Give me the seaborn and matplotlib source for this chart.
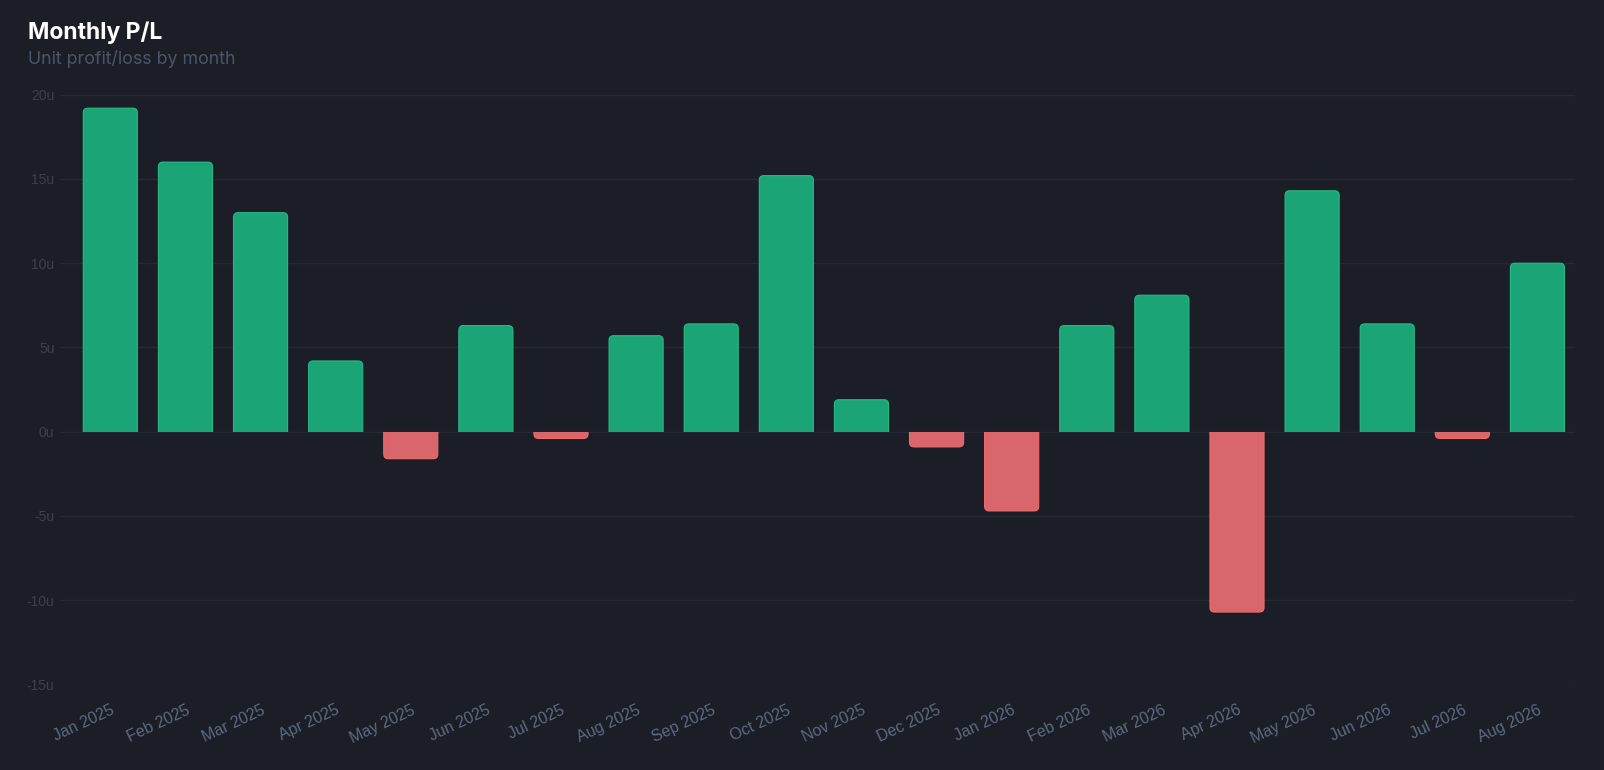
import numpy as np
import matplotlib
matplotlib.use("Agg")
import matplotlib.pyplot as plt
from matplotlib.patches import FancyBboxPatch, Rectangle
from matplotlib.ticker import MultipleLocator, FuncFormatter
import seaborn as sns

# Data
months = ["Jan 2025", "Feb 2025", "Mar 2025", "Apr 2025", "May 2025", "Jun 2025",
          "Jul 2025", "Aug 2025", "Sep 2025", "Oct 2025", "Nov 2025", "Dec 2025",
          "Jan 2026", "Feb 2026", "Mar 2026", "Apr 2026", "May 2026", "Jun 2026",
          "Jul 2026", "Aug 2026"]
pnl_units = [19.2, 16.0, 13.0, 4.2, -1.6, 6.3, -0.4, 5.7, 6.4, 15.2,
             1.9, -0.9, -4.7, 6.3, 8.1, -10.7, 14.3, 6.4, -0.4, 10.0]
y_limits = (-15, 20)

BG = "#1b1e27"
GRID = "#262935"
GREEN, GREEN_EDGE = "#1ba577", "#25b986"
RED, RED_EDGE = "#d9666a", "#ee6c6c"

sns.set_theme(style="dark")
plt.rcParams["font.family"] = ["Liberation Sans", "DejaVu Sans"]

W, H, DPI = 1604, 770, 100
fig = plt.figure(figsize=(W / DPI, H / DPI), dpi=DPI, facecolor=BG)
ax_left, ax_right, ax_top, ax_bottom = 60, 1575, 94.7, 684.5
ax = fig.add_axes([ax_left / W, 1 - ax_bottom / H,
                   (ax_right - ax_left) / W, (ax_bottom - ax_top) / H])
ax.set_facecolor(BG)

sign = ["gain" if v >= 0 else "loss" for v in pnl_units]
sns.barplot(x=months, y=pnl_units, hue=sign, palette={"gain": GREEN, "loss": RED},
            width=0.72, dodge=False, saturation=1, legend=False, ax=ax)

ax.set_xlim(-0.67, 19.5)
ax.set_ylim(*y_limits)

# rounded far-end corners: swap seaborn's rectangles for rounded boxes
px_x = (ax_right - ax_left) / (19.5 + 0.67)
px_y = (ax_bottom - ax_top) / (y_limits[1] - y_limits[0])
r_x = 4.5 / px_x
r_y = 4.5 / px_y
edge_for = {matplotlib.colors.to_hex(GREEN): GREEN_EDGE, matplotlib.colors.to_hex(RED): RED_EDGE}
for bar in list(ax.patches):
    x0, w = bar.get_x(), bar.get_width()
    y0, h = bar.get_y(), bar.get_height()
    lo, hi = min(y0, y0 + h), max(y0, y0 + h)
    if hi - lo == 0:
        bar.remove()
        continue
    fc = matplotlib.colors.to_hex(bar.get_facecolor())
    if hi > 0:
        lo_ext, hi_ext = lo - r_y, hi
        clip = Rectangle((x0 - 1, 0), w + 2, 100, transform=ax.transData)
    else:
        lo_ext, hi_ext = lo, hi + r_y
        clip = Rectangle((x0 - 1, -100), w + 2, 100, transform=ax.transData)
    rounded = FancyBboxPatch((x0, lo_ext), w, hi_ext - lo_ext,
                             boxstyle=f"round,pad=0,rounding_size={r_x}",
                             mutation_aspect=r_y / r_x,
                             facecolor=fc, edgecolor=edge_for.get(fc, fc),
                             linewidth=0.8, zorder=2)
    bar.remove()
    ax.add_patch(rounded)
    rounded.set_clip_path(clip)

ax.yaxis.set_major_locator(MultipleLocator(5))
ax.yaxis.set_major_formatter(FuncFormatter(lambda v, _: f"{int(v)}u"))
ax.grid(axis="y", color=GRID, linewidth=1.0, zorder=0)
ax.grid(axis="x", visible=False)
ax.set_axisbelow(True)
for s in ax.spines.values():
    s.set_visible(False)
ax.tick_params(axis="y", length=0, pad=4, labelsize=10, labelcolor="#3b404d")
ax.tick_params(axis="x", length=0, pad=13, labelsize=11.5, labelcolor="#5d6a80")
plt.setp(ax.get_xticklabels(), rotation=25, ha="right", rotation_mode="anchor")
ax.set_xlabel("")
ax.set_ylabel("")

fig.text(28 / W, 1 - 39.5 / H, "Monthly P/L", family=["Inter", "DejaVu Sans"],
         fontsize=16.5, fontweight="bold", color="#ffffff", va="baseline")
fig.text(28 / W, 1 - 64 / H, "Unit profit/loss by month", family=["Inter", "DejaVu Sans"],
         fontsize=12.8, color="#4b5568", va="baseline")

fig.savefig("out.png", dpi=DPI, facecolor=BG)
